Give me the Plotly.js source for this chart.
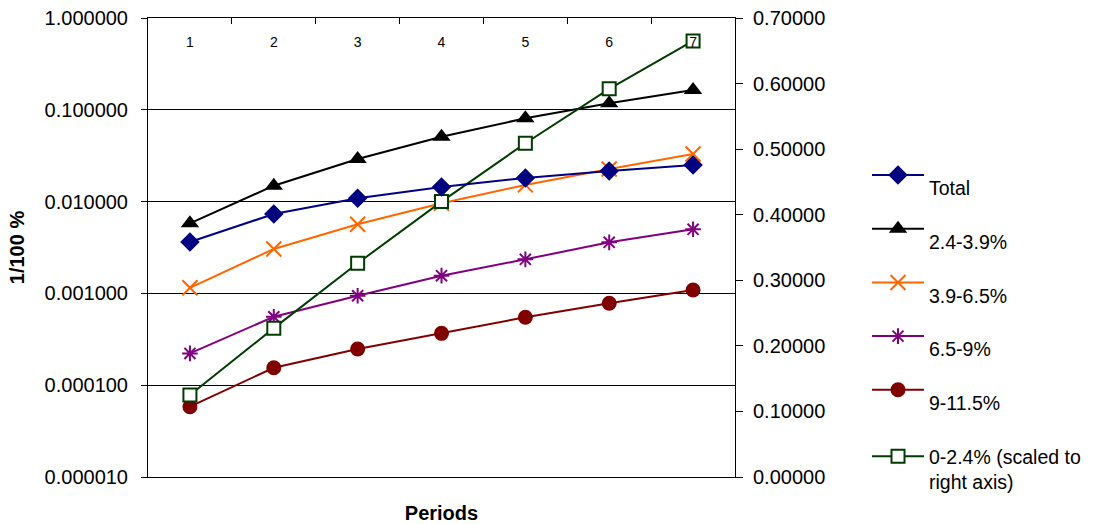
<!DOCTYPE html>
<html><head><meta charset="utf-8">
<script src="https://cdn.plot.ly/plotly-3.0.1.min.js"></script>
<style>html,body{margin:0;padding:0;background:#fff}#chart{width:1102px;height:524px}</style>
</head><body><div id="chart"></div>
<script>
// ---- data ----
const periods = ['1','2','3','4','5','6','7'];
const total     = [0.00363, 0.00733, 0.0109, 0.0144, 0.0181, 0.0216, 0.0251];
const band24_39 = [0.0058, 0.0149, 0.0291, 0.0509, 0.0808, 0.1177, 0.164];
const band39_65 = [0.00115, 0.00305, 0.00566, 0.00958, 0.0152, 0.0227, 0.033];
const band65_9  = [0.000222, 0.000557, 0.000944, 0.00156, 0.00235, 0.0036, 0.00499];
const band9_115 = [0.0000583, 0.000155, 0.000248, 0.000367, 0.000549, 0.00078, 0.00109];
const band0_24  = [0.125, 0.227, 0.326, 0.420, 0.509, 0.592, 0.665];
const seriesNames = ['Total', '2.4-3.9%', '3.9-6.5%', '6.5-9%', '9-11.5%', '0-2.4% (scaled to<br>right axis)'];
const leftTickVals  = [0.00001, 0.0001, 0.001, 0.01, 0.1, 1];
const leftTickText  = ['0.000010', '0.000100', '0.001000', '0.010000', '0.100000', '1.000000'];
const rightTickVals = [0, 0.1, 0.2, 0.3, 0.4, 0.5, 0.6, 0.7];
const rightTickText = ['0.00000', '0.10000', '0.20000', '0.30000', '0.40000', '0.50000', '0.60000', '0.70000'];

// ---- drawing ----
const xs = periods.map(Number);
const FONT = 'Liberation Sans, Arial, sans-serif';
function nm(s){ return '&nbsp;<br>' + s; }

const traces = [
  {x: xs, y: total, name: nm(seriesNames[0]), mode: 'lines+markers', xaxis: 'x3', yaxis: 'y',
   line: {color: '#000080', width: 2}, marker: {symbol: 'diamond', size: 15, color: '#000080'}},
  {x: xs, y: band24_39, name: nm(seriesNames[1]), mode: 'lines+markers',
   line: {color: '#000000', width: 2}, marker: {symbol: 'triangle-up', size: 16, color: '#000000'}},
  {x: xs, y: band39_65, name: nm(seriesNames[2]), mode: 'lines+markers',
   line: {color: '#ff6600', width: 2}, marker: {symbol: 'x-thin', size: 15, color: '#ff6600', line: {color: '#ff6600', width: 2}}},
  {x: xs, y: band65_9, name: nm(seriesNames[3]), mode: 'lines+markers',
   line: {color: '#800080', width: 2}, marker: {symbol: 'asterisk-open', size: 13, color: '#800080', line: {color: '#800080', width: 2}}},
  {x: xs, y: band9_115, name: nm(seriesNames[4]), mode: 'lines+markers',
   line: {color: '#800000', width: 2}, marker: {symbol: 'circle', size: 15, color: '#800000'}},
  {x: xs, y: band0_24, name: nm(seriesNames[5]), mode: 'lines+markers', xaxis: 'x2', yaxis: 'y2',
   line: {color: '#003b00', width: 2}, marker: {symbol: 'square', size: 13, color: '#ffffff', line: {color: '#003b00', width: 2}}}
];

const layout = {
  width: 1102, height: 524,
  margin: {l: 148, r: 367, t: 18, b: 47, pad: 0},
  paper_bgcolor: '#ffffff', plot_bgcolor: '#ffffff',
  font: {family: FONT, color: '#000000', size: 20},
  showlegend: true,
  hovermode: false,
  xaxis: {
    range: [0.5, 7.5], showticklabels: false, ticks: '', showgrid: false, zeroline: false,
    showline: true, linecolor: '#000000', linewidth: 1,
    title: {text: 'Periods', font: {family: FONT, size: 20, weight: 'bold', color: '#000000'}, standoff: 28}
  },
  xaxis2: {
    overlaying: 'x', side: 'top', anchor: 'y2', range: [0.5, 7.5],
    tickmode: 'linear', tick0: 0.5, dtick: 1, ticks: 'inside', ticklen: 6, tickcolor: '#000000',
    showticklabels: false, showgrid: false, zeroline: false,
    showline: true, linecolor: '#000000', linewidth: 1
  },
  xaxis3: {
    type: 'linear', overlaying: 'x', side: 'bottom', anchor: 'free', position: 0.9695, range: [0.5, 7.5],
    tickvals: xs, ticktext: periods, ticks: '', showline: false, showgrid: false, zeroline: false,
    tickfont: {family: FONT, size: 14, color: '#000000'}
  },
  yaxis: {
    type: 'log', range: [-5, 0], tickvals: leftTickVals, ticktext: leftTickText,
    ticks: 'outside', ticklen: 6, tickcolor: '#000000', ticklabelstandoff: 9,
    tickfont: {family: FONT, size: 20, color: '#000000'},
    showline: true, linecolor: '#000000', linewidth: 1,
    showgrid: true, gridcolor: '#000000', gridwidth: 1, zeroline: false,
    title: {text: '1/100 %', font: {family: FONT, size: 20, weight: 'bold', color: '#000000'}, standoff: 14}
  },
  yaxis2: {
    overlaying: 'y', side: 'right', anchor: 'x2', range: [0, 0.700001],
    tickvals: rightTickVals, ticktext: rightTickText,
    ticks: 'outside', ticklen: 7, tickcolor: '#000000', ticklabelstandoff: 6,
    tickfont: {family: FONT, size: 20, color: '#000000'},
    showline: true, linecolor: '#000000', linewidth: 1, showgrid: false, zeroline: false
  },
  legend: {
    x: 1.2249, xanchor: 'left', y: 0.7273, yanchor: 'top',
    font: {family: FONT, size: 19.5, color: '#000000'}, valign: 'middle', itemwidth: 52,
    bgcolor: 'rgba(0,0,0,0)', borderwidth: 0, tracegroupgap: 0, traceorder: 'normal'
  }
};

Plotly.newPlot('chart', traces, layout, {staticPlot: true, displayModeBar: false});
</script>
</body></html>
